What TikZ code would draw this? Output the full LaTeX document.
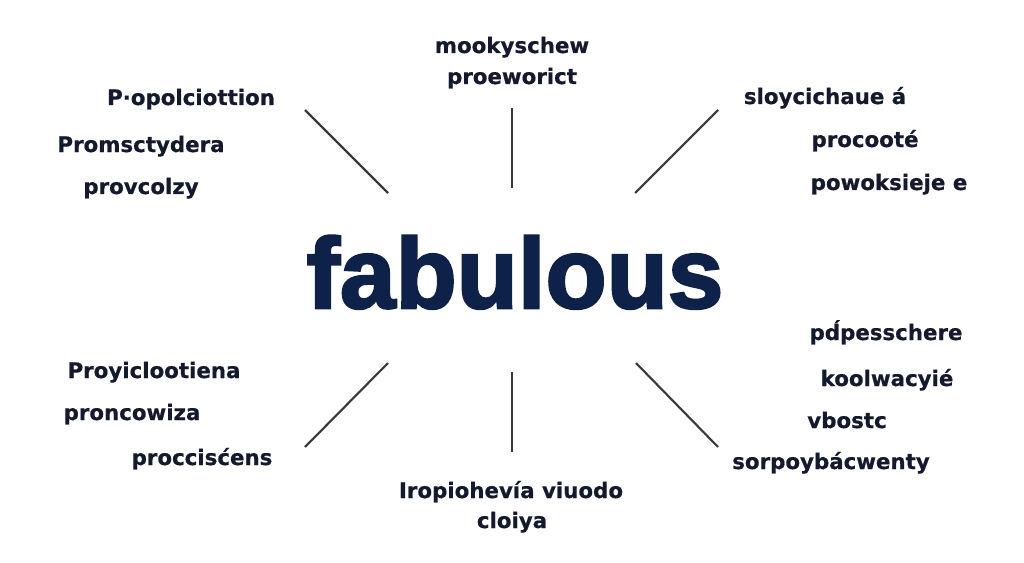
\documentclass[tikz,border=0pt]{standalone}
\usepackage{fontspec}
\setmainfont{DejaVu Sans}[BoldFeatures={FakeBold=0.6}]
\newfontfamily\titlefont{Liberation Sans}[BoldFeatures={FakeBold=2.5}]
\definecolor{navy}{HTML}{0E2148}
\definecolor{ink}{HTML}{141A2E}
\definecolor{spoke}{HTML}{3A3A3A}
\begin{document}
\begin{tikzpicture}[x=0.75pt,y=-0.75pt,
  lbl/.style={anchor=base,inner sep=0pt,text=ink,font=\bfseries\fontsize{16}{18}\selectfont},
  spokeline/.style={draw=spoke,line width=1.6pt}]
\useasboundingbox[fill=white] (0,0) rectangle (1024,563);
\node[anchor=base,inner sep=0pt,text=navy,font=\titlefont\bfseries\fontsize{75}{80}\selectfont] (hub) at (515,308) {fabulous};
% spokes
\coordinate (a1) at (305,110); \coordinate (a2) at (388,193);
\coordinate (b1) at (512,108); \coordinate (b2) at (512,188);
\coordinate (c1) at (718,110); \coordinate (c2) at (635,193);
\coordinate (d1) at (388,363); \coordinate (d2) at (305,447);
\coordinate (e1) at (512,372); \coordinate (e2) at (512,452);
\coordinate (f1) at (636,363); \coordinate (f2) at (718,447);
\draw[spokeline] (a1) -- (a2);
\draw[spokeline] (b1) -- (b2);
\draw[spokeline] (c1) -- (c2);
\draw[spokeline] (d1) -- (d2);
\draw[spokeline] (e1) -- (e2);
\draw[spokeline] (f1) -- (f2);
% top-left
\node[lbl] (tl1) at (191,105) {P·opolciottion};
\node[lbl] (tl2) at (141,152) {Promsctydera};
\node[lbl] (tl3) at (141,194) {provcolzy};
% top
\node[lbl] (t1) at (512,53) {mookyschew};
\node[lbl] (t2) at (512,84) {proeworict};
% top-right
\node[lbl] (tr1) at (825,104) {sloycichaue á};
\node[lbl] (tr2) at (865,147) {procooté};
\node[lbl] (tr3) at (889,190) {powoksieje e};
% bottom-right
\node[lbl] (br1) at (886,340) {pd́pesschere};
\node[lbl] (br2) at (887,386) {koolwacyié};
\node[lbl] (br3) at (847,428) {vbostc};
\node[lbl] (br4) at (831,469) {sorpoybácwenty};
% bottom-left
\node[lbl] (bl1) at (154,378) {Proyiclootiena};
\node[lbl] (bl2) at (132,420) {proncowiza};
\node[lbl] (bl3) at (202,465) {proccisćens};
% bottom
\node[lbl] (b1t) at (511,498) {Iropiohevía viuodo};
\node[lbl] (b2t) at (512,528) {cloiya};
\end{tikzpicture}
\end{document}
